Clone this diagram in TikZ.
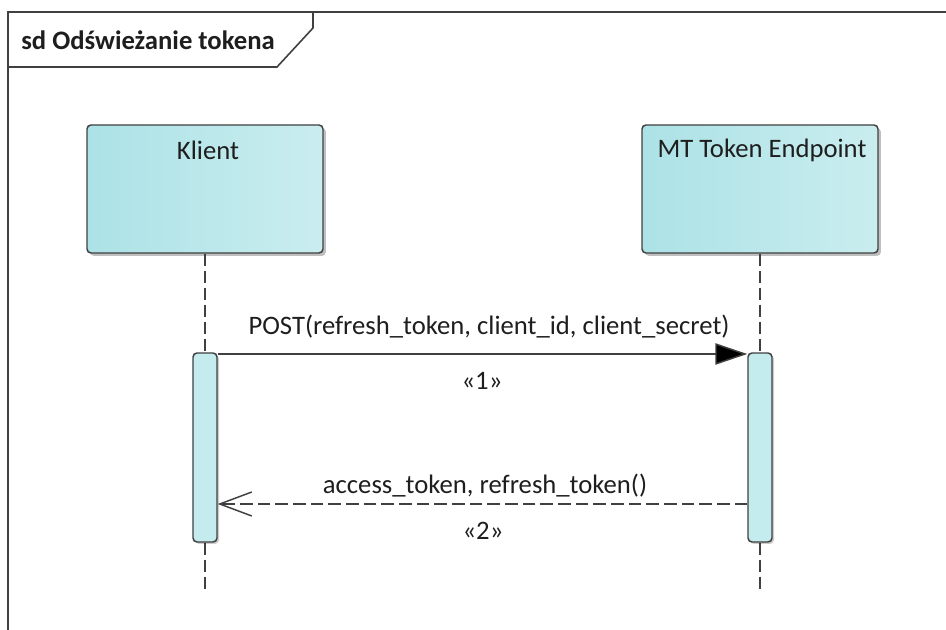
\documentclass[tikz,border=0pt]{standalone}
\usepackage{fontspec}
\setmainfont{Carlito}
\usetikzlibrary{arrows.meta,shadows}
\definecolor{linec}{HTML}{404040}
\definecolor{txtc}{HTML}{1E1E1E}
\definecolor{boxl}{HTML}{ACE2E6}
\definecolor{boxr}{HTML}{CAEDEF}
\definecolor{actc}{HTML}{C4EBED}
\tikzset{
  lbl/.style={font=\fontsize{20}{24}\selectfont, text=txtc, inner sep=0pt},
  partbox/.style={draw=linec, line width=1.1pt, rounded corners=3pt,
    left color=boxl, right color=boxr, shading angle=90,
    minimum width=177pt, minimum height=96pt, inner sep=0pt,
    drop shadow={shadow xshift=2.2pt, shadow yshift=-2.2pt, opacity=0.25, fill=black}},
  actbox/.style={draw=linec, line width=1.1pt, rounded corners=3pt, fill=actc,
    minimum width=18pt, minimum height=141.75pt, inner sep=0pt,
    drop shadow={shadow xshift=1.5pt, shadow yshift=-1.5pt, opacity=0.2, fill=black}},
  lifeline/.style={draw=linec, line width=1.1pt, dash pattern=on 9pt off 3.75pt},
  frameline/.style={draw=linec, line width=1.2pt},
  syncmsg/.style={draw=linec, line width=1.1pt, -{Triangle[length=24pt,width=16pt,fill=black]}},
  retmsg/.style={draw=linec, line width=1.1pt, dash pattern=on 9.5pt off 3.75pt,
    -{Straight Barb[length=24pt,width=18pt,line width=1.1pt]}},
}
\begin{document}
\begin{tikzpicture}[x=0.75pt,y=-0.75pt]
\useasboundingbox (0,0) rectangle (946,630);
% frame
\draw[frameline] (946,12) -- (8,12) -- (8,630);
\draw[frameline] (8,67) -- (277,67) -- (313,28) -- (313,12);
\node[lbl, font=\fontsize{20}{24}\selectfont\bfseries, anchor=west] (title) at (21,40) {sd Odświeżanie tokena};
% participants
\node[partbox] (kbox) at (205,189) {};
\node[partbox] (mbox) at (760,189) {};
\node[lbl] (kname) at (208,150) {Klient};
\node[lbl] (mname) at (762,150) {MT Token Endpoint};
% lifelines
\coordinate (kend) at (205,589);
\coordinate (mend) at (760,589);
\draw[lifeline] (kbox.south) -- (kend);
\draw[lifeline] (mbox.south) -- (mend);
% activations
\node[actbox] (kact) at (205,447.5) {};
\node[actbox] (mact) at (760,447.5) {};
% messages
\coordinate (m1) at (205,354);
\coordinate (m2) at (205,504);
\draw[syncmsg] (kact.east |- m1) -- (mact.west |- m1);
\draw[retmsg] (mact.west |- m2) -- (kact.east |- m2);
\node[lbl] (m1lbl) at (489,327) {POST(refresh\_token, client\_id, client\_secret)};
\node[lbl] (m1num) at (482,381) {«1»};
\node[lbl] (m2lbl) at (485,486) {access\_token, refresh\_token()};
\node[lbl] (m2num) at (483,531) {«2»};
\end{tikzpicture}
\end{document}
